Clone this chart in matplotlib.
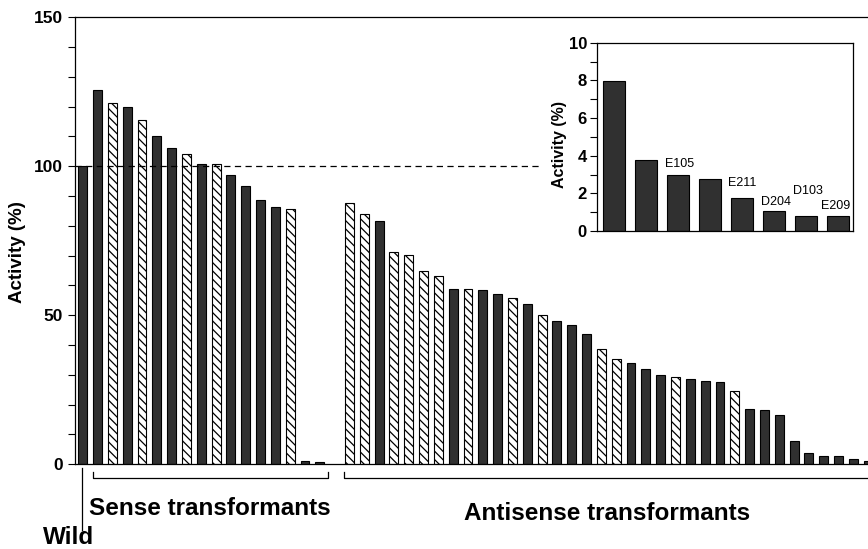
import numpy as np
import matplotlib.pyplot as plt
from matplotlib.ticker import MultipleLocator

plt.rcParams['font.family'] = ['Liberation Sans', 'DejaVu Sans']
plt.rcParams['hatch.linewidth'] = 0.9

# Datos
# D = barra oscura, H = barra rayada
wild_activity = [100.0]
wild_type = "D"

sense_activity = [125.6, 121.1, 120.0, 115.5, 110.0, 106.0, 104.2, 100.8,
                  100.8, 97.1, 93.3, 88.7, 86.3, 85.7, 1.1, 0.7]
sense_type = "DHDHDDHDHDDDDHDD"

antisense_activity = [87.6, 84.1, 81.7, 71.2, 70.1, 65.0, 63.2, 58.9, 58.9, 58.5,
                      57.1, 55.7, 53.9, 50.0, 48.0, 46.9, 43.6, 38.6, 35.4, 34.0,
                      32.1, 29.9, 29.3, 28.5, 27.9, 27.5, 24.7, 18.6, 18.2, 16.7,
                      7.95, 3.75, 2.95, 2.75, 1.75, 1.05, 0.82, 0.82]
antisense_type = "HHDHHHHDHDDHDHDDDHHDDDHDDDHDDD" + "DDDDDDDD"

inset_activity = [7.95, 3.75, 2.95, 2.75, 1.75, 1.05, 0.82, 0.82]
inset_labels = ["", "", "E105", "", "E211", "D204", "D103", "E209"]

main_yticks = [0, 50, 100, 150]
inset_yticks = [0, 2, 4, 6, 8, 10]

# posiciones: wild en 0, sense 1..16, hueco, antisense 18..
activity = np.array(wild_activity + sense_activity + antisense_activity)
types = wild_type + sense_type + antisense_type
pos = np.concatenate([[0], np.arange(1, 17), np.arange(18, 18 + len(antisense_activity))])
dark = np.array([t == "D" for t in types])

DARK = "#303030"

fig = plt.figure(figsize=(8.68, 5.49), dpi=100)

# eje principal (se sale por la derecha, como en el original recortado)
W, H = 868.0, 549.0
step = 14.82
x_right = 56
ax = fig.add_axes([75 / W, 1 - 464.3 / H, (82.7 + x_right * step - 75) / W, 447 / H])

ax.bar(pos[dark], activity[dark], width=0.6, color=DARK, edgecolor="black", linewidth=0.8)
ax.bar(pos[~dark], activity[~dark], width=0.6, color="white", edgecolor="black",
       linewidth=0.8, hatch="\\\\\\\\")

ax.plot([-0.5, 30.86], [100, 100], color="black", lw=0.9, ls=(0, (5, 3.5)))

ax.set_xlim(-0.52, x_right)
ax.set_ylim(0, 150)
ax.set_xticks([])
ax.set_yticks(main_yticks)
ax.yaxis.set_minor_locator(MultipleLocator(10))
ax.tick_params(axis="y", which="both", direction="out", length=5, width=0.8)
ax.tick_params(axis="y", which="major", pad=3.5)
for lab in ax.get_yticklabels():
    lab.set_fontweight("bold")
    lab.set_fontsize(12.5)
for s in ["top", "left", "bottom"]:
    ax.spines[s].set_linewidth(0.9)
ax.spines["right"].set_visible(False)
ax.set_ylabel("Activity (%)", fontsize=13.5, fontweight="bold")
ax.yaxis.set_label_coords(-0.058, 0.475)

# corchetes de los grupos
tr = ax.get_xaxis_transform()
yb, yt = -0.0313, -0.0166
ax.plot([0.67, 0.67, 16.57, 16.57], [yt, yb, yb, yt], transform=tr, color="black",
        lw=0.9, clip_on=False)
ax.plot([17.65, 17.65, x_right + 2], [yt, yb, yb], transform=tr, color="black",
        lw=0.9, clip_on=False)
ax.plot([-0.07, -0.07], [-0.0083, -0.147], transform=tr, color="black", lw=0.9,
        clip_on=False)

fig.text(210.3 / W, 1 - 515 / H, "Sense transformants", ha="center", va="baseline",
         fontsize=17.5, fontweight="bold")
fig.text(607.5 / W, 1 - 520 / H, "Antisense transformants", ha="center", va="baseline",
         fontsize=17.5, fontweight="bold")
fig.text(68.3 / W, 1 - 543.5 / H, "Wild", ha="center", va="baseline",
         fontsize=17.5, fontweight="bold")

# grafico insertado
axi = fig.add_axes([596.7 / W, 1 - 231 / H, (853.3 - 596.7) / W, (231 - 42.7) / H])
xi = np.arange(len(inset_activity))
axi.bar(xi, inset_activity, width=0.7, color=DARK, edgecolor="black", linewidth=0.8)
axi.set_xlim(-0.534, 7.48)
axi.set_ylim(0, 10)
axi.set_xticks([])
axi.set_yticks(inset_yticks)
axi.yaxis.set_minor_locator(MultipleLocator(1))
axi.tick_params(axis="y", which="both", direction="out", length=5, width=0.8, pad=2)
for lab in axi.get_yticklabels():
    lab.set_fontweight("bold")
    lab.set_fontsize(12)
for s in axi.spines.values():
    s.set_linewidth(0.9)
axi.set_ylabel("Activity (%)", fontsize=11.5, fontweight="bold")
axi.yaxis.set_label_coords(-0.117, 0.457)

offsets = {"E105": (1.5, 8.5), "E211": (0, 10.5), "D204": (1.5, 6.3),
           "D103": (1.5, 17.5), "E209": (-1.5, 7.2)}
for i, lab in enumerate(inset_labels):
    if lab:
        axi.annotate(lab, (xi[i], inset_activity[i]), xytext=offsets[lab],
                     textcoords="offset points", ha="center", va="center", fontsize=9)

fig.savefig("out.png", dpi=100)
